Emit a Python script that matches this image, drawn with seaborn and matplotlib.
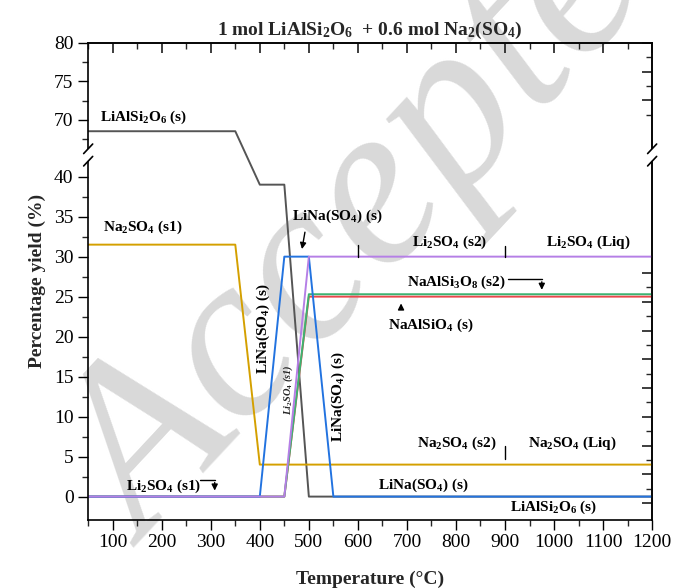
import numpy as np
import matplotlib
matplotlib.use("Agg")
import matplotlib.pyplot as plt
import seaborn as sns

# temperature (°C) / percentage yield (%) for each phase
t_lialsi2o6 = [50, 350, 400, 450, 500, 1200]
y_lialsi2o6 = [68.5, 68.5, 39, 39, 0, 0]
t_na2so4 = [50, 350, 400, 1200]
y_na2so4 = [31.5, 31.5, 4, 4]
t_lina = [50, 400, 450, 500, 550, 1200]
y_lina = [0, 0, 30, 30, 0, 0]
t_li2so4 = [50, 450, 500, 1200]
y_li2so4 = [0, 0, 30, 30]
t_naalsi3o8 = [50, 450, 500, 1200]
y_naalsi3o8 = [0, 0, 25.3, 25.3]
t_naalsio4 = [50, 450, 500, 1200]
y_naalsio4 = [0, 0, 25, 25]

xticks = list(range(100, 1300, 100))
yticks = [0, 5, 10, 15, 20, 25, 30, 35, 40, 70, 75, 80]

sns.set_theme(style="ticks")
plt.rcParams['font.family'] = ['Liberation Serif', 'DejaVu Serif']
plt.rcParams['mathtext.fontset'] = 'custom'
plt.rcParams['mathtext.rm'] = 'Liberation Serif:bold'
plt.rcParams['mathtext.bf'] = 'Liberation Serif:bold'
plt.rcParams['mathtext.it'] = 'Liberation Serif:bold'
plt.rcParams['mathtext.default'] = 'rm'

# broken y axis: 42 .. 65.5 squeezed into a small gap
B1, B2, GAP, S = 42.0, 65.5, 0.8, 0.96

def fwd(y):
    y = np.asarray(y, dtype=float)
    return np.where(y <= B1, y,
                    np.where(y < B2, B1 + (y - B1) * GAP / (B2 - B1),
                             B1 + GAP + (y - B2) * S))

def inv(v):
    v = np.asarray(v, dtype=float)
    return np.where(v <= B1, v,
                    np.where(v < B1 + GAP, B1 + (v - B1) * (B2 - B1) / GAP,
                             B2 + (v - B1 - GAP) / S))

fig = plt.figure(figsize=(6.73, 5.88), dpi=100)
ax = fig.add_axes([0.131, 0.116, 0.838, 0.811])
ax.patch.set_alpha(0)

fig.text(0.596, 0.673, "Accepted", fontsize=170, style='italic', color='#d9d9d9',
         rotation=47, ha='center', va='center', zorder=-5,
         family='Liberation Serif')

kw = dict(ax=ax, sort=False, estimator=None, linewidth=1.4)
sns.lineplot(x=t_lialsi2o6, y=y_lialsi2o6, color='#555555', **kw)
sns.lineplot(x=t_na2so4, y=y_na2so4, color='#d4a000', **kw)
sns.lineplot(x=t_naalsio4, y=y_naalsio4, color='#e8474b', **kw)
sns.lineplot(x=t_naalsi3o8, y=y_naalsi3o8, color='#3cb371', **kw)
sns.lineplot(x=t_lina, y=y_lina, color='#2273e0', **kw)
sns.lineplot(x=t_li2so4, y=y_li2so4, color='#b57fe6', **kw)

ax.set_yscale('function', functions=(fwd, inv))
ax.set_xlim(50, 1200)
ax.set_ylim(-2.9, 80)
ax.set_xticks(xticks)
ax.set_xticks(np.arange(50, 1201, 50), minor=True)
ax.set_yticks(yticks)
ax.set_yticklabels([str(v) for v in yticks])
ax.set_yticks([2.5, 7.5, 12.5, 17.5, 22.5, 27.5, 32.5, 37.5, 67.5, 72.5, 77.5], minor=True)
ax.tick_params(which='major', direction='out', length=7, width=1, labelsize=14, colors='black')
ax.tick_params(which='minor', direction='out', length=4, width=1)
for sp in ax.spines.values():
    sp.set_linewidth(1.2)
    sp.set_color('black')

# mirrored inward ticks on top and right
sec_x = ax.secondary_xaxis('top')
sec_x.set_xticks(xticks)
sec_x.set_xticks(np.arange(50, 1201, 50), minor=True)
sec_x.tick_params(which='major', direction='in', length=7, labeltop=False)
sec_x.tick_params(which='minor', direction='in', length=4)
sec_y = ax.secondary_yaxis('right')
sec_y.set_yticks(yticks)
sec_y.set_yticks([2.5, 7.5, 12.5, 17.5, 22.5, 27.5, 32.5, 37.5, 67.5, 72.5, 77.5], minor=True)
sec_y.tick_params(which='major', direction='in', length=7, labelright=False)
sec_y.tick_params(which='minor', direction='in', length=4)

# break marks
bk = 0.765
for xs in (0, 1):
    ax.plot([xs, xs], [bk - 0.009, bk + 0.009], transform=ax.transAxes,
            color='white', lw=3, clip_on=False, zorder=5)
    for dy in (-0.013, 0.013):
        ax.plot([xs - 0.008, xs + 0.008], [bk + dy - 0.01, bk + dy + 0.01],
                transform=ax.transAxes, color='black', lw=1.2, clip_on=False, zorder=6)

ax.set_xlabel('Temperature (°C)', fontsize=14, fontweight='bold', labelpad=14)
ax.set_ylabel('Percentage yield (%)', fontsize=14, fontweight='bold', labelpad=6)
ax.set_title(r'1 mol LiAlSi$_2$O$_6$  + 0.6 mol Na$_2$(SO$_4$)',
             fontsize=14, fontweight='bold', pad=6)

tk = dict(fontsize=11, fontweight='bold', color='black')
ax.text(74, 70.3, r'LiAlSi$_2$O$_6$ (s)', ha='left', va='center', **tk)
ax.text(81, 33.7, r'Na$_2$SO$_4$ (s1)', ha='left', va='center', **tk)
ax.text(466, 35, r'LiNa(SO$_4$) (s)', ha='left', va='center', **tk)
ax.annotate('', xy=(485, 30.6), xytext=(493, 33.4),
            arrowprops=dict(arrowstyle='-|>', color='black', lw=1, mutation_scale=9))
ax.text(407, 21, r'LiNa(SO$_4$) (s)', rotation=90, ha='center', va='center', **tk)
ax.text(458, 13.4, r'Li$_2$SO$_4$ (s1)', rotation=90, ha='center', va='center',
        fontsize=7.5, fontweight='bold', style='italic')
ax.text(560, 12.5, r'LiNa(SO$_4$) (s)', rotation=90, ha='center', va='center', **tk)
ax.text(711, 31.8, r'Li$_2$SO$_4$ (s2)', ha='left', va='center', **tk)
ax.text(983, 31.8, r'Li$_2$SO$_4$ (Liq)', ha='left', va='center', **tk)
ax.plot([600, 600], [30, 31.5], color='black', lw=1)
ax.plot([900, 900], [30, 31.3], color='black', lw=1)
ax.text(701, 26.8, r'NaAlSi$_3$O$_8$ (s2)', ha='left', va='center', **tk)
ax.plot([907, 975], [27.2, 27.2], color='black', lw=1)
ax.annotate('', xy=(975, 25.5), xytext=(975, 27.2),
            arrowprops=dict(arrowstyle='-|>', color='black', lw=1, mutation_scale=9))
ax.text(662, 21.4, r'NaAlSiO$_4$ (s)', ha='left', va='center', **tk)
ax.annotate('', xy=(688, 24.5), xytext=(688, 23.2),
            arrowprops=dict(arrowstyle='-|>', color='black', lw=1, mutation_scale=9))
ax.text(721, 6.6, r'Na$_2$SO$_4$ (s2)', ha='left', va='center', **tk)
ax.text(946, 6.6, r'Na$_2$SO$_4$ (Liq)', ha='left', va='center', **tk)
ax.plot([900, 900], [4.7, 6.3], color='black', lw=1)
ax.text(127, 1.3, r'Li$_2$SO$_4$ (s1)', ha='left', va='center', **tk)
ax.plot([278, 308], [2.1, 2.1], color='black', lw=1)
ax.annotate('', xy=(308, 0.4), xytext=(308, 2.1),
            arrowprops=dict(arrowstyle='-|>', color='black', lw=1, mutation_scale=9))
ax.text(642, 1.4, r'LiNa(SO$_4$) (s)', ha='left', va='center', **tk)
ax.text(911, -1.3, r'LiAlSi$_2$O$_6$ (s)', ha='left', va='center', **tk)

fig.savefig('out.png', dpi=100)
